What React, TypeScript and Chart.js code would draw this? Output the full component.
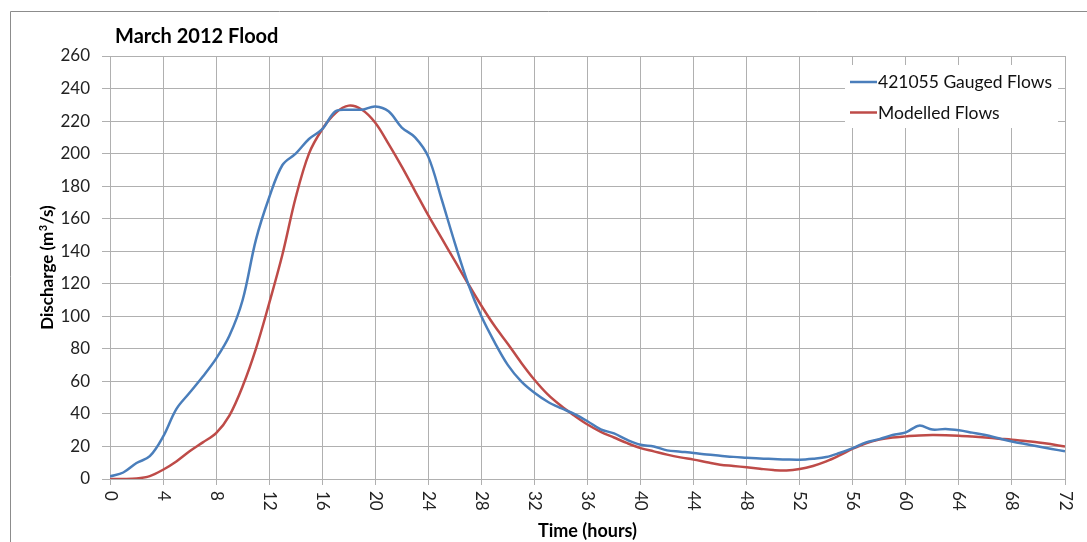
import React, { useEffect, useRef } from 'react';
import { Chart, registerables } from 'chart.js';

Chart.register(...registerables);

// ---- Data ----
const hours = [
  0, 1, 2, 3, 4, 5, 6, 7, 8, 9, 10, 11, 12, 13, 14, 15, 16, 17, 18, 19, 20, 21, 22, 23, 24,
  25, 26, 27, 28, 29, 30, 31, 32, 33, 34, 35, 36, 37, 38, 39, 40, 41, 42, 43, 44, 45, 46, 47, 48,
  49, 50, 51, 52, 53, 54, 55, 56, 57, 58, 59, 60, 61, 62, 63, 64, 65, 66, 67, 68, 69, 70, 71, 72,
];

const gaugedFlows = [
  1.6, 4, 9.8, 14, 26, 43, 53, 63, 74, 88, 110, 147, 173, 193, 200, 209, 215, 226, 227, 227, 229,
  226, 216, 210, 198, 172, 145, 120, 100, 84, 70, 60, 53, 47.5, 43.5, 40, 35.5, 30.5, 28, 24, 21,
  20, 17.6, 16.8, 16, 15, 14.3, 13.6, 13.1, 12.6, 12.3, 12, 11.9, 12.5, 13.5, 16, 19, 22.5, 24.5,
  27, 28.7, 32.8, 30.4, 30.7, 29.9, 28.5, 27, 25, 23.1, 21.5, 20, 18.5, 17,
];

const modelledFlows = [
  0, 0, 0.3, 1.8, 5.7, 10.8, 17, 22.5, 28.2, 39, 57, 80, 108, 138, 173, 200, 215, 225, 229.5, 227,
  219, 206, 192, 177, 162, 148, 134, 120, 106.5, 94, 83, 71.5, 61, 52, 45, 39, 33.5, 29, 25.5, 22,
  19, 17, 15, 13.3, 11.9, 10.3, 8.8, 8, 7.2, 6.3, 5.5, 5.2, 6.1, 8, 10.8, 14.5, 18.6, 22, 24.2,
  25.5, 26.2, 26.8, 27, 26.9, 26.6, 26.1, 25.5, 24.8, 24.2, 23.3, 22.5, 21.3, 20,
];

const xTickValues = [0, 4, 8, 12, 16, 20, 24, 28, 32, 36, 40, 44, 48, 52, 56, 60, 64, 68, 72];
const yTickValues = [0, 20, 40, 60, 80, 100, 120, 140, 160, 180, 200, 220, 240, 260];

const seriesLabels = ['421055 Gauged Flows', 'Modelled Flows'];
const seriesColors = ['#4a7ebb', '#be4b48'];
const chartTitle = 'March 2012 Flood';
const xAxisTitle = 'Time (hours)';
const yAxisTitleParts = ['Discharge (m', '3', '/s)'];

const FONT = 'Lato, "Open Sans", "DejaVu Sans", sans-serif';
const GRID = '#b0b0b0';

const decorPlugin = {
  id: 'decor',
  beforeDraw(chart: any) {
    const { ctx, width, height } = chart;
    ctx.save();
    ctx.fillStyle = '#ffffff';
    ctx.fillRect(0, 0, width, height);
    ctx.restore();
  },
  afterDraw(chart: any) {
    const { ctx, chartArea, scales, width, height } = chart;
    const xs = scales.x;
    ctx.save();
    // outer frame (left + top)
    ctx.strokeStyle = '#8c8c8c';
    ctx.lineWidth = 1;
    ctx.beginPath();
    ctx.moveTo(10.5, height);
    ctx.lineTo(10.5, 11.5);
    ctx.lineTo(width, 11.5);
    ctx.stroke();

    // title
    ctx.fillStyle = '#000';
    ctx.font = `bold 20px ${FONT}`;
    ctx.textAlign = 'left';
    ctx.textBaseline = 'alphabetic';
    ctx.fillText(chartTitle, 115, 43);

    // x tick labels, rotated clockwise
    ctx.font = `17px ${FONT}`;
    ctx.fillStyle = '#222';
    xTickValues.forEach((v) => {
      const px = xs.getPixelForValue(v);
      ctx.save();
      ctx.translate(px, chartArea.bottom + 12);
      ctx.rotate(Math.PI / 2);
      ctx.textAlign = 'left';
      ctx.textBaseline = 'middle';
      ctx.fillText(String(v), 0, 0);
      ctx.restore();
    });

    // x axis title
    ctx.fillStyle = '#000';
    ctx.font = `bold 18px ${FONT}`;
    ctx.textAlign = 'center';
    ctx.textBaseline = 'alphabetic';
    ctx.fillText(xAxisTitle, (chartArea.left + chartArea.right) / 2, 537);

    // y axis title (with superscript 3)
    ctx.save();
    ctx.translate(53, (chartArea.top + chartArea.bottom) / 2);
    ctx.rotate(-Math.PI / 2);
    ctx.textBaseline = 'alphabetic';
    ctx.textAlign = 'left';
    const mainFont = `bold 17px ${FONT}`;
    const supFont = `bold 11px ${FONT}`;
    ctx.font = mainFont;
    const w0 = ctx.measureText(yAxisTitleParts[0]).width;
    const w2 = ctx.measureText(yAxisTitleParts[2]).width;
    ctx.font = supFont;
    const w1 = ctx.measureText(yAxisTitleParts[1]).width;
    const total = w0 + w1 + 1 + w2;
    let cx = -total / 2;
    ctx.font = mainFont;
    ctx.fillText(yAxisTitleParts[0], cx, 0);
    cx += w0 + 0.5;
    ctx.font = supFont;
    ctx.fillText(yAxisTitleParts[1], cx, -6);
    cx += w1 + 0.5;
    ctx.font = mainFont;
    ctx.fillText(yAxisTitleParts[2], cx, 0);
    ctx.restore();

    // legend
    ctx.fillStyle = '#ffffff';
    ctx.fillRect(845, 65, 213, 63);
    chart.data.datasets.forEach((ds: any, i: number) => {
      const base = 88 + i * 30.5;
      const ly = base - 6;
      ctx.strokeStyle = ds.borderColor;
      ctx.lineWidth = 2.5;
      ctx.beginPath();
      ctx.moveTo(850, ly);
      ctx.lineTo(877, ly);
      ctx.stroke();
      ctx.fillStyle = '#111';
      ctx.font = `17.5px ${FONT}`;
      ctx.textAlign = 'left';
      ctx.textBaseline = 'alphabetic';
      ctx.fillText(ds.label, 878, base);
    });
    ctx.restore();
  },
};

export default function App() {
  const canvasRef = useRef<HTMLCanvasElement | null>(null);

  useEffect(() => {
    if (!canvasRef.current) return;
    const makePoints = (vals: number[]) => vals.map((v, i) => ({ x: hours[i], y: v }));
    const chart = new Chart(canvasRef.current, {
      type: 'line',
      data: {
        datasets: [
          {
            label: seriesLabels[0],
            data: makePoints(gaugedFlows),
            borderColor: seriesColors[0],
            backgroundColor: seriesColors[0],
            borderWidth: 2.5,
            pointRadius: 0,
            tension: 0.35,
            fill: false,
          },
          {
            label: seriesLabels[1],
            data: makePoints(modelledFlows),
            borderColor: seriesColors[1],
            backgroundColor: seriesColors[1],
            borderWidth: 2.5,
            pointRadius: 0,
            tension: 0.35,
            fill: false,
          },
        ],
      },
      options: {
        responsive: false,
        animation: false,
        devicePixelRatio: 1,
        layout: { padding: { left: 0, right: 22, top: 56, bottom: 0 } },
        plugins: {
          legend: { display: false },
          title: { display: false },
          tooltip: { enabled: false },
        },
        scales: {
          x: {
            type: 'linear',
            min: 0,
            max: 72,
            afterBuildTicks: (s: any) => {
              s.ticks = xTickValues.map((v) => ({ value: v }));
            },
            afterFit: (s: any) => {
              s.height = 63;
            },
            ticks: { display: false },
            grid: { color: GRID, lineWidth: 1, tickLength: 6, drawTicks: true },
            border: { color: GRID, width: 1 },
          },
          y: {
            type: 'linear',
            min: 0,
            max: 260,
            afterBuildTicks: (s: any) => {
              s.ticks = yTickValues.map((v) => ({ value: v }));
            },
            afterFit: (s: any) => {
              s.width = 110;
            },
            ticks: {
              color: '#222',
              font: { family: FONT, size: 17 },
              padding: 12,
            },
            grid: { color: GRID, lineWidth: 1, tickLength: 8, drawTicks: true },
            border: { color: GRID, width: 1 },
          },
        },
      },
      plugins: [decorPlugin],
    } as any);
    return () => chart.destroy();
  }, []);

  return (
    <div style={{ position: 'absolute', left: 0, top: 0, width: 1087, height: 542, background: '#fff' }}>
      <canvas ref={canvasRef} width={1087} height={542} style={{ display: 'block', width: 1087, height: 542 }} />
    </div>
  );
}
